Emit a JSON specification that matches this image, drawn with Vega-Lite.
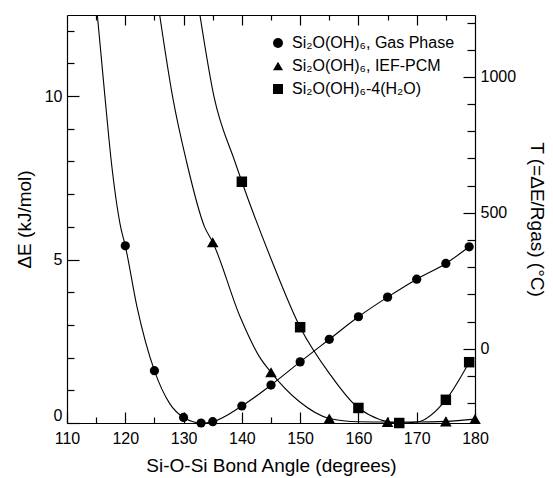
{
  "$schema": "https://vega.github.io/schema/vega-lite/v6.json",
  "width": 408,
  "height": 408,
  "autosize": {"type": "none"},
  "padding": {"left": 67, "top": 15, "right": 78, "bottom": 55},
  "background": "white",
  "config": {
    "font": "Liberation Sans",
    "view": {"stroke": null},
    "axis": {
      "domainColor": "black", "domainWidth": 1.2, "tickColor": "black", "tickWidth": 1.2,
      "labelColor": "black", "labelFont": "Liberation Sans", "labelFontSize": 16,
      "titleFont": "Liberation Sans", "titleFontSize": 19, "titleFontWeight": "normal", "titleColor": "black",
      "grid": false, "labelOverlap": false
    }
  },
  "datasets": {
    "pts": [
      {"s": "Si₂O(OH)₆, Gas Phase", "angle": 120, "dE": 5.42},
      {"s": "Si₂O(OH)₆, Gas Phase", "angle": 125, "dE": 1.60},
      {"s": "Si₂O(OH)₆, Gas Phase", "angle": 130, "dE": 0.17},
      {"s": "Si₂O(OH)₆, Gas Phase", "angle": 133, "dE": 0.0},
      {"s": "Si₂O(OH)₆, Gas Phase", "angle": 135, "dE": 0.04},
      {"s": "Si₂O(OH)₆, Gas Phase", "angle": 140, "dE": 0.52},
      {"s": "Si₂O(OH)₆, Gas Phase", "angle": 145, "dE": 1.16},
      {"s": "Si₂O(OH)₆, Gas Phase", "angle": 150, "dE": 1.87},
      {"s": "Si₂O(OH)₆, Gas Phase", "angle": 155, "dE": 2.56},
      {"s": "Si₂O(OH)₆, Gas Phase", "angle": 160, "dE": 3.25},
      {"s": "Si₂O(OH)₆, Gas Phase", "angle": 165, "dE": 3.85},
      {"s": "Si₂O(OH)₆, Gas Phase", "angle": 170, "dE": 4.40},
      {"s": "Si₂O(OH)₆, Gas Phase", "angle": 175, "dE": 4.88},
      {"s": "Si₂O(OH)₆, Gas Phase", "angle": 179, "dE": 5.39},
      {"s": "Si₂O(OH)₆, IEF-PCM", "angle": 135, "dE": 5.53},
      {"s": "Si₂O(OH)₆, IEF-PCM", "angle": 145, "dE": 1.55},
      {"s": "Si₂O(OH)₆, IEF-PCM", "angle": 155, "dE": 0.14},
      {"s": "Si₂O(OH)₆, IEF-PCM", "angle": 165, "dE": 0.03},
      {"s": "Si₂O(OH)₆, IEF-PCM", "angle": 175, "dE": 0.05},
      {"s": "Si₂O(OH)₆, IEF-PCM", "angle": 180, "dE": 0.12},
      {"s": "Si₂O(OH)₆-4(H₂O)", "angle": 140, "dE": 7.38},
      {"s": "Si₂O(OH)₆-4(H₂O)", "angle": 150, "dE": 2.93},
      {"s": "Si₂O(OH)₆-4(H₂O)", "angle": 160, "dE": 0.46},
      {"s": "Si₂O(OH)₆-4(H₂O)", "angle": 167, "dE": 0.0},
      {"s": "Si₂O(OH)₆-4(H₂O)", "angle": 175, "dE": 0.71},
      {"s": "Si₂O(OH)₆-4(H₂O)", "angle": 179, "dE": 1.86}
    ],
    "crv": [
      {"s": "gas", "angle": 115.14, "dE": 12.6},
      {"s": "gas", "angle": 116.5, "dE": 10.0},
      {"s": "gas", "angle": 117.6, "dE": 8.0},
      {"s": "gas", "angle": 119.2, "dE": 6.0},
      {"s": "gas", "angle": 120, "dE": 5.42},
      {"s": "gas", "angle": 122.0, "dE": 3.56},
      {"s": "gas", "angle": 125, "dE": 1.60},
      {"s": "gas", "angle": 127.6, "dE": 0.6},
      {"s": "gas", "angle": 130, "dE": 0.17},
      {"s": "gas", "angle": 133, "dE": 0.0},
      {"s": "gas", "angle": 135, "dE": 0.04},
      {"s": "gas", "angle": 140, "dE": 0.52},
      {"s": "gas", "angle": 145, "dE": 1.16},
      {"s": "gas", "angle": 150, "dE": 1.87},
      {"s": "gas", "angle": 155, "dE": 2.56},
      {"s": "gas", "angle": 160, "dE": 3.25},
      {"s": "gas", "angle": 165, "dE": 3.85},
      {"s": "gas", "angle": 170, "dE": 4.40},
      {"s": "gas", "angle": 175, "dE": 4.88},
      {"s": "gas", "angle": 179, "dE": 5.39},
      {"s": "pcm", "angle": 125.8, "dE": 12.6},
      {"s": "pcm", "angle": 128.1, "dE": 10.0},
      {"s": "pcm", "angle": 130.5, "dE": 8.0},
      {"s": "pcm", "angle": 133.6, "dE": 6.0},
      {"s": "pcm", "angle": 135, "dE": 5.53},
      {"s": "pcm", "angle": 139.7, "dE": 3.25},
      {"s": "pcm", "angle": 143.0, "dE": 2.03},
      {"s": "pcm", "angle": 145, "dE": 1.55},
      {"s": "pcm", "angle": 149.9, "dE": 0.65},
      {"s": "pcm", "angle": 155, "dE": 0.14},
      {"s": "pcm", "angle": 160, "dE": 0.04},
      {"s": "pcm", "angle": 165, "dE": 0.03},
      {"s": "pcm", "angle": 170, "dE": 0.03},
      {"s": "pcm", "angle": 175, "dE": 0.05},
      {"s": "pcm", "angle": 180, "dE": 0.12},
      {"s": "h2o", "angle": 132.7, "dE": 12.6},
      {"s": "h2o", "angle": 135.2, "dE": 10.0},
      {"s": "h2o", "angle": 138.8, "dE": 8.0},
      {"s": "h2o", "angle": 140, "dE": 7.38},
      {"s": "h2o", "angle": 145.1, "dE": 4.98},
      {"s": "h2o", "angle": 150, "dE": 2.93},
      {"s": "h2o", "angle": 155, "dE": 1.52},
      {"s": "h2o", "angle": 160, "dE": 0.46},
      {"s": "h2o", "angle": 167, "dE": 0.0},
      {"s": "h2o", "angle": 170, "dE": 0.03},
      {"s": "h2o", "angle": 175, "dE": 0.71},
      {"s": "h2o", "angle": 179, "dE": 1.86}
    ],
    "tscale": [
      {"angle": 110, "T": -273.15},
      {"angle": 180, "T": 1227.93}
    ]
  },
  "layer": [
    {
      "encoding": {
        "x": {"field": "angle", "type": "quantitative",
          "scale": {"domain": [110, 180], "nice": false, "zero": false},
          "axis": {
            "orient": "bottom",
            "values": [110, 115, 120, 125, 130, 135, 140, 145, 150, 155, 160, 165, 170, 175, 180],
            "labelExpr": "datum.value % 10 === 0 ? datum.label : ''",
            "tickSize": {"condition": {"test": "datum.value % 10 === 0", "value": -11}, "value": -6},
            "labelPadding": 18, "labelFlush": false, "labelOverlap": false,
            "title": "Si-O-Si Bond Angle (degrees)", "titlePadding": 5
          }
        },
        "y": {"field": "dE", "type": "quantitative",
          "scale": {"domain": [0, 12.48], "nice": false, "zero": false},
          "axis": {
            "orient": "left",
            "values": [0, 1, 2, 3, 4, 5, 6, 7, 8, 9, 10, 11, 12],
            "labelExpr": "datum.value % 5 === 0 ? datum.label : ''",
            "tickSize": {"condition": {"test": "datum.value % 5 === 0", "value": -12}, "value": -7},
            "labelBaseline": {"condition": {"test": "datum.value === 0", "value": "bottom"}, "value": "middle"},
            "labelPadding": 17, "labelFlush": false, "labelOverlap": false,
            "title": "ΔE (kJ/mol)", "titlePadding": 10
          }
        }
      },
      "layer": [
        {
          "data": {"name": "crv"},
          "mark": {"type": "line", "interpolate": "monotone", "clip": true, "color": "black", "strokeWidth": 1.1},
          "encoding": {
            "detail": {"field": "s", "type": "nominal"}
          }
        },
        {
          "data": {"name": "pts"},
          "mark": {"type": "point", "filled": true, "color": "black", "opacity": 1},
          "encoding": {
            "shape": {"field": "s", "type": "nominal",
              "scale": {"domain": ["Si₂O(OH)₆, Gas Phase", "Si₂O(OH)₆, IEF-PCM", "Si₂O(OH)₆-4(H₂O)"], "range": ["circle", "triangle-up", "square"]},
              "legend": {
                "title": null, "orient": "none", "legendX": 203, "legendY": 20,
                "labelFontSize": 16, "labelFont": "Liberation Sans", "labelColor": "black", "labelLimit": 400,
                "symbolSize": 100, "symbolFillColor": "black", "symbolStrokeColor": "black", "symbolStrokeWidth": 0,
                "rowPadding": 7, "labelOffset": 6, "padding": 0
              }
            },
            "size": {
              "condition": [
                {"test": "datum.s === 'Si₂O(OH)₆, IEF-PCM'", "value": 135},
                {"test": "datum.s === 'Si₂O(OH)₆-4(H₂O)'", "value": 110}
              ],
              "value": 85
            }
          }
        }
      ]
    },
    {
      "data": {"name": "tscale"},
      "mark": {"type": "point", "opacity": 0},
      "encoding": {
        "x": {"field": "angle", "type": "quantitative",
          "scale": {"domain": [110, 180], "nice": false, "zero": false},
          "axis": {
            "orient": "top",
            "values": [115, 120, 125, 130, 135, 140, 145, 150, 155, 160, 165, 170, 175],
            "labels": false, "title": null,
            "tickSize": {"condition": {"test": "datum.value % 10 === 0", "value": -10}, "value": -5}
          }
        },
        "y": {"field": "T", "type": "quantitative",
          "scale": {"domain": [-273.15, 1227.93], "nice": false, "zero": false},
          "axis": {
            "orient": "right",
            "values": [-200, -100, 0, 100, 200, 300, 400, 500, 600, 700, 800, 900, 1000, 1100, 1200],
            "format": "d",
            "labelExpr": "datum.value % 500 === 0 ? datum.label : ''",
            "tickSize": {"condition": {"test": "datum.value % 500 === 0", "value": -12}, "value": -8},
            "labelPadding": 17, "labelFlush": false, "labelOverlap": false,
            "title": "T (=ΔE/Rgas) (°C)", "titlePadding": 11
          }
        }
      }
    }
  ],
  "resolve": {"scale": {"y": "independent"}, "axis": {"x": "independent", "y": "independent"}}
}
